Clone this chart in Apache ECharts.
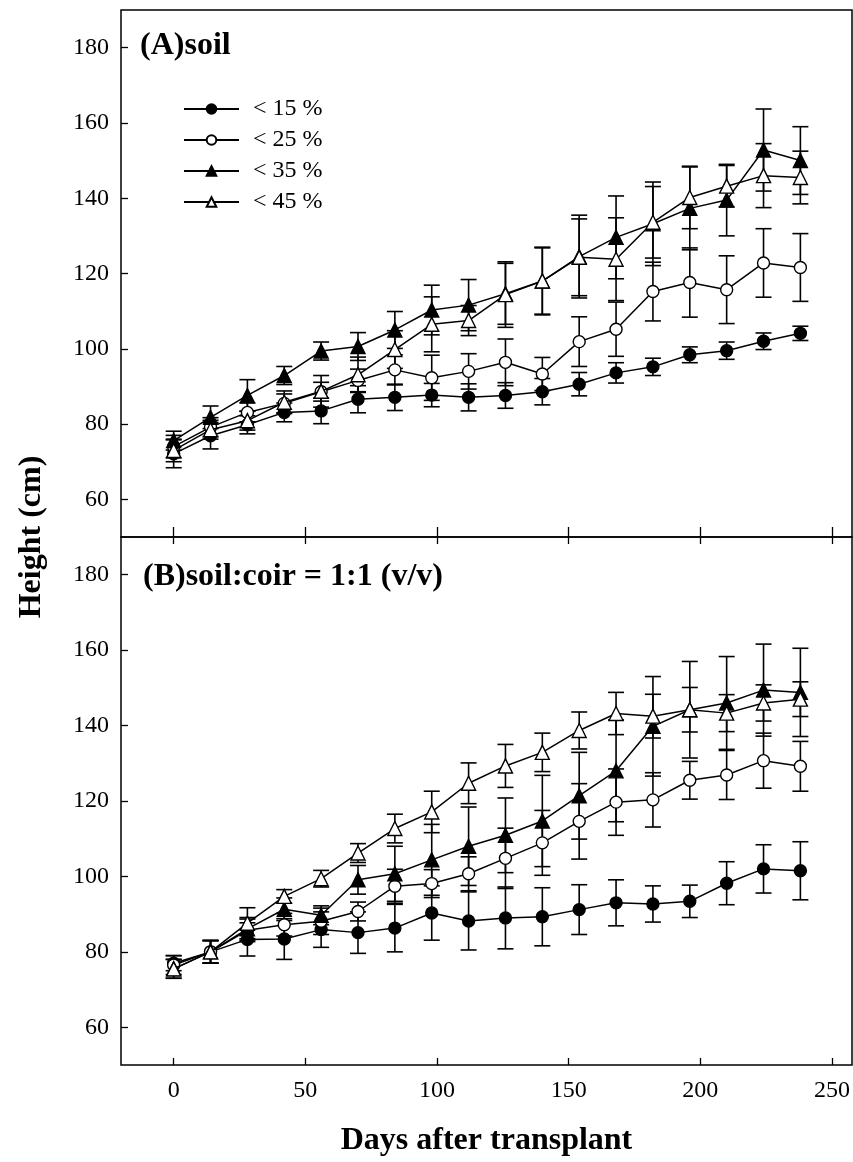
<!DOCTYPE html>
<html>
<head>
<meta charset="utf-8">
<script src="https://cdn.jsdelivr.net/npm/echarts@6/dist/echarts.min.js"></script>
<style>
html,body{margin:0;padding:0;background:#fff;}
#chart{width:853px;height:1162px;}
</style>
</head>
<body>
<div id="chart"></div>
<script>
// ---- data ----
const days = [0,14,28,42,56,70,84,98,112,126,140,154,168,182,196,210,224,238];
const seriesNames = ['< 15 %','< 25 %','< 35 %','< 45 %'];
const xTicks = [0,50,100,150,200,250];
const yTicks = [60,80,100,120,140,160,180];
const panelLabels = ['(A)soil','(B)soil:coir = 1:1 (v/v)'];

// Panel A (soil)
const a15  = [72.1,76.9,79.8,83.1,83.5,86.6,87.1,87.7,87.1,87.6,88.6,90.6,93.6,95.2,98.4,99.5,102.0,104.1];
const a15e = [3.7,3.5,2.4,2.5,3.4,3.6,3.5,3.1,3.6,3.4,3.5,3.1,2.7,2.3,2.1,2.3,2.2,1.9];
const a25  = [74.0,79.2,83.1,85.5,88.6,91.6,94.4,92.3,94.0,96.4,93.3,101.9,105.2,115.2,117.6,115.7,122.8,121.6];
const a25e = [3.0,2.5,2.5,2.5,2.5,3.0,4.0,6.0,4.7,6.2,4.4,6.6,7.2,7.8,9.2,9.0,9.1,9.0];
const a35  = [75.6,81.8,87.6,92.9,99.4,100.6,105.0,110.3,111.6,114.6,118.0,124.5,129.6,133.2,137.3,139.5,152.8,150.0];
const a35e = [2.5,3.0,4.2,2.4,2.4,3.7,4.9,6.6,6.8,8.1,8.8,11.0,11.0,11.1,11.0,9.5,10.9,9.0];
const a45  = [73.0,78.5,80.9,85.8,88.7,93.1,99.8,106.5,107.5,114.4,118.0,124.3,123.8,133.6,140.2,143.2,146.0,145.5];
const a45e = [3.0,2.5,2.5,3.0,4.2,4.7,5.0,7.3,4.0,8.7,9.0,10.2,11.0,9.5,8.3,5.5,8.5,7.0];

// Panel B (soil:coir 1:1)
const b15  = [77.0,80.0,83.3,83.4,85.9,85.1,86.3,90.3,88.2,89.0,89.3,91.2,93.0,92.7,93.4,98.2,102.0,101.5];
const b15e = [2.0,3.0,4.4,5.4,4.7,5.5,6.3,7.2,7.7,8.2,7.7,6.6,6.1,4.8,4.3,5.7,6.4,7.7];
const b25  = [76.5,80.0,85.7,87.2,88.1,90.7,97.4,98.1,100.7,104.8,108.9,114.6,119.7,120.3,125.5,126.9,130.7,129.2];
const b25e = [2.5,3.0,3.0,3.0,3.5,2.5,4.5,3.7,4.5,8.0,8.6,10.0,8.8,7.2,5.0,6.5,7.3,6.6];
const b35  = [75.5,80.0,86.1,91.3,89.7,99.1,100.7,104.4,108.0,110.9,114.7,121.4,128.0,139.8,144.2,146.0,149.4,148.8];
const b35e = [2.5,3.0,3.0,3.0,2.5,3.8,7.3,9.4,10.4,9.9,12.1,11.5,13.5,13.2,12.8,12.3,12.2,11.7];
const b45  = [75.5,80.0,87.6,94.7,99.4,106.2,112.7,117.1,124.7,129.3,132.9,138.7,143.2,142.5,144.2,143.3,146.0,147.0];
const b45e = [2.5,3.0,4.1,1.8,2.2,2.5,3.8,5.5,5.4,5.7,5.1,4.9,5.6,5.8,5.9,4.9,4.8,4.6];

// ---- chart ----
const FONT = "'Liberation Serif','Times New Roman',serif";
const markers = [
  {symbol:'circle', size:12, fill:'#000'},
  {symbol:'circle', size:12, fill:'#fff'},
  {symbol:'triangle', size:14, fill:'#000'},
  {symbol:'triangle', size:14, fill:'#fff'}
];
const panels = [
  {vals:[a15,a25,a35,a45], errs:[a15e,a25e,a35e,a45e]},
  {vals:[b15,b25,b35,b45], errs:[b15e,b25e,b35e,b45e]}
];

const series = [];
panels.forEach((p, gi) => {
  const yIdx = gi;
  const xIdx = gi === 0 ? 0 : 1;
  p.vals.forEach((vals, si) => {
    const errs = p.errs[si];
    series.push({
      type:'custom',
      name:'err'+gi+'_'+si,
      xAxisIndex:xIdx, yAxisIndex:yIdx,
      silent:true, z:2,
      data: days.map((d,i)=>[d, vals[i]-errs[i], vals[i]+errs[i]]),
      renderItem: function(params, api){
        const x = api.value(0);
        const lo = api.coord([x, api.value(1)]);
        const hi = api.coord([x, api.value(2)]);
        const hw = 8;
        const st = {stroke:'#000', lineWidth:1.6, fill:null};
        return {type:'group', children:[
          {type:'line', shape:{x1:lo[0],y1:lo[1],x2:hi[0],y2:hi[1]}, style:st},
          {type:'line', shape:{x1:lo[0]-hw,y1:lo[1],x2:lo[0]+hw,y2:lo[1]}, style:st},
          {type:'line', shape:{x1:hi[0]-hw,y1:hi[1],x2:hi[0]+hw,y2:hi[1]}, style:st}
        ]};
      }
    });
  });
  p.vals.forEach((vals, si) => {
    const m = markers[si];
    series.push({
      type:'line',
      name:seriesNames[si],
      xAxisIndex:xIdx, yAxisIndex:yIdx,
      z:3 + si,
      symbol:m.symbol, symbolSize:m.size,
      showAllSymbol:true,
      lineStyle:{color:'#000', width:1.5},
      itemStyle:{color:m.fill, borderColor:'#000', borderWidth:1.4},
      emphasis:{disabled:true},
      animation:false,
      data: days.map((d,i)=>[d, vals[i]])
    });
  });
});

const yAxisCommon = (gi) => ({
  type:'value', gridIndex:gi, min:50, max:190, position:'left',
  axisLine:{show:false, onZero:false},
  axisTick:{show:true, inside:true, length:7, lineStyle:{color:'#000', width:1.3}, customValues:yTicks},
  axisLabel:{show:true, margin:12, color:'#000', fontFamily:FONT, fontSize:24, customValues:yTicks},
  splitLine:{show:false}
});

const xAxisBase = (gi, pos, showLabel, tickLen) => ({
  type:'value', gridIndex:gi, min:-20, max:257.6, position:pos,
  axisLine:{show:false, onZero:false},
  axisTick:{show:true, inside:true, length:tickLen, lineStyle:{color:'#000', width:1.3}, customValues:xTicks},
  axisLabel:{show:showLabel, margin:14, color:'#000', fontFamily:FONT, fontSize:24, customValues:xTicks},
  splitLine:{show:false}
});

const option = {
  backgroundColor:'#fff',
  animation:false,
  grid:[
    {left:121, right:1, top:10, height:527, show:true, borderColor:'#000', borderWidth:1.5, backgroundColor:'transparent'},
    {left:121, right:1, top:537, height:528, show:true, borderColor:'#000', borderWidth:1.5, backgroundColor:'transparent'}
  ],
  xAxis:[
    xAxisBase(0,'bottom',false,10),
    xAxisBase(1,'bottom',true,7),
    xAxisBase(1,'top',false,7)
  ],
  yAxis:[yAxisCommon(0), yAxisCommon(1)],
  legend:{
    data:seriesNames,
    orient:'vertical',
    left:178, top:92,
    itemWidth:55, itemHeight:12,
    itemGap:7,
    selectedMode:false,
    textStyle:{fontFamily:FONT, fontSize:24, color:'#000', lineHeight:24, padding:[0,0,0,9]}
  },
  graphic:[
    {type:'text', left:140, top:30, style:{text:panelLabels[0], font:"bold 32px "+FONT, fill:'#000'}},
    {type:'text', left:143, top:561, style:{text:panelLabels[1], font:"bold 32px "+FONT, fill:'#000'}},
    {type:'text', x:32, y:537, rotation:Math.PI/2, style:{text:'Height (cm)', font:"bold 32px "+FONT, fill:'#000', align:'center', verticalAlign:'middle'}},
    {type:'text', x:486.5, y:1141, style:{text:'Days after transplant', font:"bold 32px "+FONT, fill:'#000', align:'center', verticalAlign:'middle'}}
  ],
  series:series
};

const chart = echarts.init(document.getElementById('chart'), null, {renderer:'canvas'});
chart.setOption(option);
</script>
</body>
</html>
